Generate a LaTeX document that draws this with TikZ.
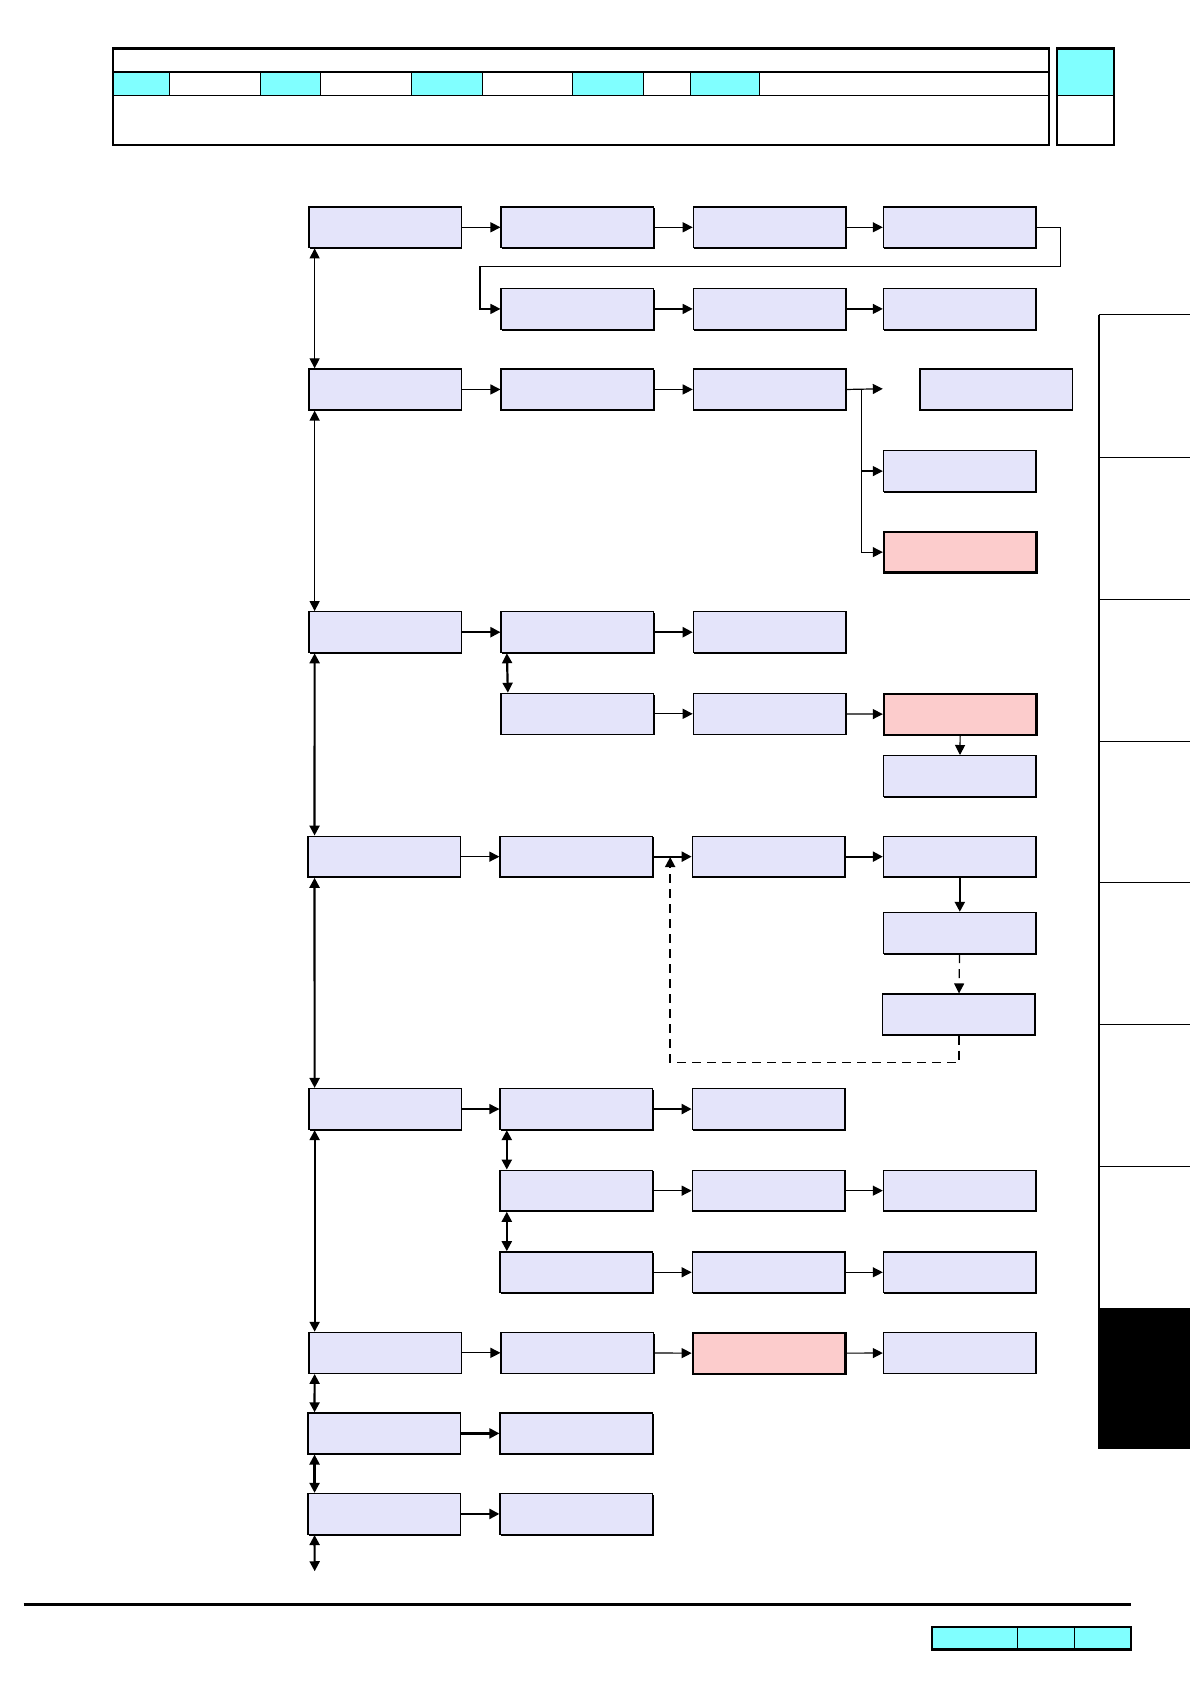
\documentclass[tikz,border=0pt]{standalone}
\usetikzlibrary{arrows.meta,shadows}
\definecolor{boxblue}{RGB}{228,228,250}
\definecolor{boxpink}{RGB}{252,204,204}
\definecolor{tabcyan}{RGB}{128,255,255}
\tikzset{
  box/.style={draw, line width=0.7pt, fill=boxblue, minimum width=76.3pt, minimum height=20.4pt,
    anchor=north west, inner sep=0pt,
    drop shadow={shadow xshift=0.4pt, shadow yshift=-0.6pt, fill=black, opacity=1}},
  hot/.style={box, fill=boxpink, line width=1.2pt},
  link/.style={line width=0.6pt, -{Triangle[length=5pt,width=5pt]}},
  blink/.style={link, line width=1.1pt},
  dlink/.style={link, dash pattern=on 4.5pt off 3pt},
  both/.style={line width=0.6pt, {Triangle[length=5pt,width=5pt]}-{Triangle[length=5pt,width=5pt]}},
  bboth/.style={both, line width=1.1pt}
}
\begin{document}
\begin{tikzpicture}[x=0.537pt,y=-0.537pt]
\useasboundingbox (0,0) rectangle (1108,1568);

% header block
\foreach \a/\b in {105/158,242/298,383/449,533/599,643/707}
\fill[tabcyan] (\a,67) rectangle (\b,89);
\foreach \x in {158,242,298,383,449,533,599,643,707}
\draw[line width=0.4pt] (\x,67) -- (\x,89);
\draw[line width=0.8pt] (105,67) -- (977,67) (105,89) -- (977,89);
\draw[line width=1.2pt] (105,45) rectangle (977,135);
\fill[tabcyan] (984,45) rectangle (1037,89);
\draw[line width=0.6pt] (984,89) -- (1037,89);
\draw[line width=1.2pt] (984,45) rectangle (1037,135);

% side tabs
\fill (1023,1218) rectangle (1108,1349);
\draw[line width=0.8pt] (1023,293) -- (1023,1349);
\foreach \y in {293,426,558,690,822,954,1086,1218}
\draw[line width=0.4pt] (1023,\y) -- (1108,\y);

% footer
\draw[line width=1.2pt] (22,1494) -- (1053,1494);
\fill[tabcyan] (868,1515) rectangle (1053,1536);
\draw[line width=0.4pt] (947,1515) -- (947,1536) (1000,1515) -- (1000,1536);
\draw[line width=1.2pt] (868,1515) rectangle (1053,1536);

% row 1
\node[box] (a1) at (287,192) {};
\node[box] (a2) at (466,192) {};
\node[box] (a3) at (645,192) {};
\node[box] (a4) at (822,192) {};
\node[box] (b2) at (466,268) {};
\node[box] (b3) at (645,268) {};
\node[box] (b4) at (822,268) {};
% row 2
\node[box] (c1) at (287,343) {};
\node[box] (c2) at (466,343) {};
\node[box] (c3) at (645,343) {};
\node[box] (c5) at (856,343) {};
\node[box] (d4) at (822,419) {};
\node[hot] (e4) at (822,494) {};
% row 3
\node[box] (f1) at (287,569) {};
\node[box] (f2) at (466,569) {};
\node[box] (f3) at (645,569) {};
\node[box] (g2) at (466,645) {};
\node[box] (g3) at (645,645) {};
\node[hot] (g4) at (822,645) {};
\node[box] (h4) at (822,703) {};
% row 4
\node[box] (k1) at (286,778) {};
\node[box] (k2) at (465,778) {};
\node[box] (k3) at (644,778) {};
\node[box] (k4) at (822,778) {};
\node[box] (l4) at (822,849) {};
\node[box] (m4) at (821,925) {};
% row 5
\node[box] (n1) at (287,1013) {};
\node[box] (n2) at (465,1013) {};
\node[box] (n3) at (644,1013) {};
\node[box] (o2) at (465,1089) {};
\node[box] (o3) at (644,1089) {};
\node[box] (o4) at (822,1089) {};
\node[box] (p2) at (465,1165) {};
\node[box] (p3) at (644,1165) {};
\node[box] (p4) at (822,1165) {};
% row 6
\node[box] (q1) at (287,1240) {};
\node[box] (q2) at (466,1240) {};
\node[hot] (q3) at (644,1240) {};
\node[box] (q4) at (822,1240) {};
\node[box] (r1) at (286,1315) {};
\node[box] (r2) at (465,1315) {};
\node[box] (s1) at (286,1390) {};
\node[box] (s2) at (465,1390) {};

\coordinate (cgap) at (822,362);
\coordinate (cfork) at (802,362);
\coordinate (kin) at (624,798);
\coordinate (send) at (293,1463);

% forward links
\draw[link] (a1) -- (a2);
\draw[link] (a2) -- (a3);
\draw[link] (a3) -- (a4);
\draw[link] (a4.east) -- ++(22,0) |- (447,248) |- (b2.west);
\draw[link] (b2) -- (b3);
\draw[link] (b3) -- (b4);
\draw[link] (c1) -- (c2);
\draw[link] (c2) -- (c3);
\draw[link] (c3.east) -- (cgap);
\draw[link] (cfork) |- (d4.west);
\draw[link] (cfork) |- (e4.west);
\draw[blink] (f1) -- (f2);
\draw[blink] (f2) -- (f3);
\draw[link] (g2) -- (g3);
\draw[link] (g3) -- (g4);
\draw[link] (g4) -- (h4);
\draw[link] (k1) -- (k2);
\draw[blink] (k2) -- (k3);
\draw[blink] (k3) -- (k4);
\draw[blink] (k4) -- (l4);
\draw[dlink] (l4) -- (m4);
\draw[dlink, line width=0.9pt] (m4.south) -- ++(0,25) -| (kin);
\draw[link] (n1) -- (n2);
\draw[blink] (n2) -- (n3);
\draw[link] (o2) -- (o3);
\draw[link] (o3) -- (o4);
\draw[link] (p2) -- (p3);
\draw[link] (p3) -- (p4);
\draw[link] (q1) -- (q2);
\draw[link] (q2) -- (q3);
\draw[link] (q3) -- (q4);
\draw[blink] (r1) -- (r2);
\draw[blink] (s1) -- (s2);

% up/down links
\draw[both] ([xshift=3.2pt]a1.south west) -- ([xshift=3.2pt]c1.north west);
\draw[both] ([xshift=3.2pt]c1.south west) -- ([xshift=3.2pt]f1.north west);
\draw[bboth] ([xshift=3.2pt]f1.south west) -- ([xshift=3.7pt]k1.north west);
\draw[bboth] ([xshift=3.7pt]k1.south west) -- ([xshift=3.2pt]n1.north west);
\draw[bboth] ([xshift=3.2pt]n1.south west) -- ([xshift=3.2pt]q1.north west);
\draw[bboth] ([xshift=3.2pt]q1.south west) -- ([xshift=3.7pt]r1.north west);
\draw[bboth] ([xshift=3.7pt]r1.south west) -- ([xshift=3.7pt]s1.north west);
\draw[bboth] ([xshift=3.7pt]s1.south west) -- (send);
\draw[bboth] ([xshift=3.2pt]f2.south west) -- ([xshift=3.7pt]g2.north west);
\draw[bboth] ([xshift=3.7pt]n2.south west) -- ([xshift=3.7pt]o2.north west);
\draw[bboth] ([xshift=3.7pt]o2.south west) -- ([xshift=3.7pt]p2.north west);
\end{tikzpicture}
\end{document}
